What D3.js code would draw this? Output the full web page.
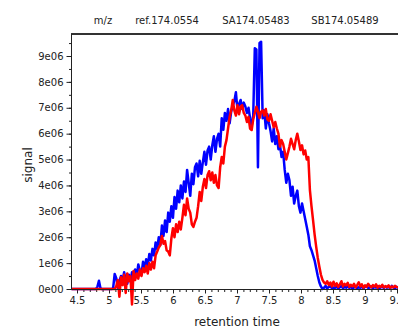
<!DOCTYPE html>
<html>
<head>
<meta charset="utf-8">
<script src="https://cdn.jsdelivr.net/npm/d3@7"></script>
<style>
  body { margin: 0; background: #fff; }
  svg text { font-family: "DejaVu Sans", sans-serif; fill: #222; }
</style>
</head>
<body>
<script>
// scans are evenly spaced in retention time
const scanStart = 4.4;
const scanStep = 0.0246;

// signal, in units of 1e06
const blueSignal = [
  0,0,0,0,0,0,0,0,
  0,0,0,0,0,0,0,0,
  0,0.08,0.32,0.02,0,0,0,0,
  0,0,0,0.02,0.58,0.42,0.05,0.3,
  0.5,0.3,0.65,0.35,0.2,0.55,0.3,0.65,
  0.4,0.75,0.5,0.95,0.7,0.55,1.05,0.8,
  1.15,0.9,1.35,1.1,1.55,1.3,1.8,1.55,
  2.0,1.7,2.45,2.05,2.65,2.2,2.95,2.6,
  3.2,2.75,3.55,3.1,3.8,3.35,4.0,3.5,
  4.15,3.75,4.6,4.1,3.6,4.45,4.05,4.7,
  4.85,4.35,4.95,4.45,4.9,5.3,4.8,5.35,
  5.5,5.0,5.55,5.9,5.3,5.8,6.0,5.5,
  6.6,6.15,6.8,6.5,6.95,6.4,6.85,7.1,
  7.25,7.6,6.9,7.15,7.3,6.95,7.2,7.05,
  6.8,7.0,6.6,6.3,6.7,9.3,9.25,4.7,
  9.5,9.55,6.6,6.9,6.2,6.75,6.4,6.1,
  5.7,6.2,5.6,5.9,5.4,5.55,5.1,5.3,
  4.6,4.1,4.45,4.2,3.6,3.95,3.3,3.6,
  3.8,3.2,2.95,3.3,3.0,2.7,2.4,2.1,
  1.65,1.5,1.3,1.1,0.8,0.5,0.25,0.1,
  0,0.05,0.12,0.02,0.08,0.1,0.03,0.06,
  0.04,0.1,0.02,0.07,0.12,0.03,0.08,0.05,
  0.1,0.04,0.09,0.02,0.06,0.11,0.03,0.07,
  0.05,0.09,0.02,0.08,0.12,0.04,0.06,0.1,
  0.03,0.08,0.05,0.11,0.02,0.07,0.09,0.04,
  0.1,0.05,0.08,0.03,0.12,0.06,0.04,0.09,
  0.05
];

const redSignal = [
  0,0,0,0,0,0,0,0,
  0,0,0,0,0,0,0,0,
  0,0,0,0,0,0,0,0,
  0,0,0,0,0,0.1,0.35,-0.3,
  0.45,0.15,0.55,-0.15,0.6,0.3,0.5,-0.6,
  0.7,0.35,0.6,0.4,0.75,0.5,0.8,0.65,
  0.9,0.6,1.0,0.75,1.05,0.8,1.3,1.45,
  1.6,1.7,2.05,1.75,1.85,1.5,1.45,1.3,
  1.95,2.35,2.0,2.5,2.2,2.6,2.3,2.75,
  3.25,2.85,3.5,3.1,2.95,2.5,2.4,2.6,
  2.75,3.2,3.75,3.4,3.95,4.25,3.9,4.4,
  4.55,4.2,4.5,4.1,4.4,4.0,3.9,4.7,
  5.1,4.85,5.5,5.75,6.2,6.65,6.9,7.3,
  6.9,6.7,7.1,6.75,7.05,7.1,6.8,6.7,
  6.45,6.65,6.2,6.14,6.55,6.8,7.04,6.85,
  6.6,6.85,6.9,6.7,6.95,6.55,6.5,6.75,
  6.5,6.25,6.45,6.2,6.0,5.5,5.75,5.6,
  5.3,5.0,5.25,5.5,5.8,5.6,5.4,5.75,
  6.0,5.7,5.37,5.55,5.2,5.35,5.0,5.1,
  3.82,3.2,2.66,2.1,1.63,1.2,0.86,0.55,
  0.35,0.25,0.2,0.3,0.15,0.25,0.1,0.28,
  0.12,0.22,0.08,0.18,0.3,0.1,0.2,0.14,
  0.24,0.08,0.16,0.1,0.2,0.06,0.15,0.26,
  0.1,0.18,0.05,0.14,0.08,0.2,0.12,0.06,
  0.15,0.09,0.18,0.05,0.12,0.08,0.16,0.06,
  0.11,0.07,0.14,0.05,0.1,0.06,0.12,0.08,
  0.07
];

const xTicks = [4.5, 5, 5.5, 6, 6.5, 7, 7.5, 8, 8.5, 9, 9.5];
const xTickLabels = ["4.5", "5", "5.5", "6", "6.5", "7", "7.5", "8", "8.5", "9", "9.5"];
const yTicks = [0, 1, 2, 3, 4, 5, 6, 7, 8, 9];
const yTickLabels = ["0e00", "1e06", "2e06", "3e06", "4e06", "5e06", "6e06", "7e06", "8e06", "9e06"];
const headerLabels = ["m/z", "ref.174.0554", "SA174.05483", "SB174.05489"];

(function() {
  const width = 398, height = 330;
  const left = 71.5, top = 34, bottom = 289.5;

  window.onload = function() {
    let svg = d3.select('body')
      .append('svg')
      .attr('width', width)
      .attr('height', height);

    let funcs = drawAxes(svg);
    plotLines(svg, funcs, blueSignal, '#0000ff');
    plotLines(svg, funcs, redSignal, '#ff0000');
    drawFrame(svg);
    makeLabels(svg);
  };

  // scales, ticks and tick labels
  function drawAxes(svg) {
    let xScale = d3.scaleLinear().domain([4.5, 9.5]).range([77, 397]);
    let yScale = d3.scaleLinear().domain([0, 9]).range([289, 56]);

    // minor ticks every 0.1 min and every 5e05
    let xMinor = d3.range(45, 96).map((d) => d / 10);
    let yMinor = d3.range(0, 20).map((d) => d / 2);

    svg.append('g')
      .attr('transform', 'translate(0,' + bottom + ')')
      .call(d3.axisBottom(xScale).tickValues(xMinor).tickSize(2.5).tickFormat(''))
      .call((g) => g.select('.domain').remove());

    svg.append('g')
      .attr('transform', 'translate(0,' + bottom + ')')
      .call(d3.axisBottom(xScale).tickValues(xTicks).tickSize(4).tickPadding(3)
        .tickFormat((d, i) => xTickLabels[i]))
      .call((g) => g.select('.domain').remove())
      .selectAll('text')
      .attr('font-size', 10);

    svg.append('g')
      .attr('transform', 'translate(' + left + ',0)')
      .call(d3.axisLeft(yScale).tickValues(yMinor).tickSize(2.5).tickFormat(''))
      .call((g) => g.select('.domain').remove());

    svg.append('g')
      .attr('transform', 'translate(' + left + ',0)')
      .call(d3.axisLeft(yScale).tickValues(yTicks).tickSize(5).tickPadding(3)
        .tickFormat((d, i) => yTickLabels[i]))
      .call((g) => g.select('.domain').remove())
      .selectAll('text')
      .attr('font-size', 10);

    svg.selectAll('.tick line').attr('stroke', '#222');

    return { x: xScale, y: yScale };
  }

  function plotLines(svg, funcs, values, colour) {
    // clip only left/right, dips below zero stay visible
    if (svg.select('#plotClip').empty()) {
      svg.append('clipPath')
        .attr('id', 'plotClip')
        .append('rect')
        .attr('x', left)
        .attr('y', 0)
        .attr('width', width - left)
        .attr('height', height);
    }

    let line = d3.line()
      .x((d, i) => funcs.x(scanStart + i * scanStep))
      .y((d) => funcs.y(d));

    svg.append('path')
      .datum(values)
      .attr('clip-path', 'url(#plotClip)')
      .attr('fill', 'none')
      .attr('stroke', colour)
      .attr('stroke-width', 2.5)
      .attr('stroke-linejoin', 'round')
      .attr('stroke-linecap', 'round')
      .attr('d', line);
  }

  // top border, left axis and baseline
  function drawFrame(svg) {
    svg.append('line')
      .attr('x1', left - 0.5).attr('x2', width)
      .attr('y1', top).attr('y2', top)
      .attr('stroke', '#333')
      .attr('stroke-width', 2);

    svg.append('line')
      .attr('x1', left).attr('x2', left)
      .attr('y1', top).attr('y2', bottom)
      .attr('stroke', '#222');

    svg.append('line')
      .attr('x1', left).attr('x2', width)
      .attr('y1', bottom).attr('y2', bottom)
      .attr('stroke', '#222');
  }

  function makeLabels(svg) {
    let headerX = [103, 167, 256, 345];
    svg.selectAll('.header')
      .data(headerLabels)
      .enter()
      .append('text')
      .attr('class', 'header')
      .attr('x', (d, i) => headerX[i])
      .attr('y', 24)
      .attr('text-anchor', 'middle')
      .style('font-size', '10px')
      .text((d) => d);

    svg.append('text')
      .attr('x', 237)
      .attr('y', 326)
      .attr('text-anchor', 'middle')
      .style('font-size', '12px')
      .text('retention time');

    svg.append('text')
      .attr('transform', 'translate(32, 165)rotate(-90)')
      .attr('text-anchor', 'middle')
      .style('font-size', '12px')
      .text('signal');
  }
})();
</script>
</body>
</html>
